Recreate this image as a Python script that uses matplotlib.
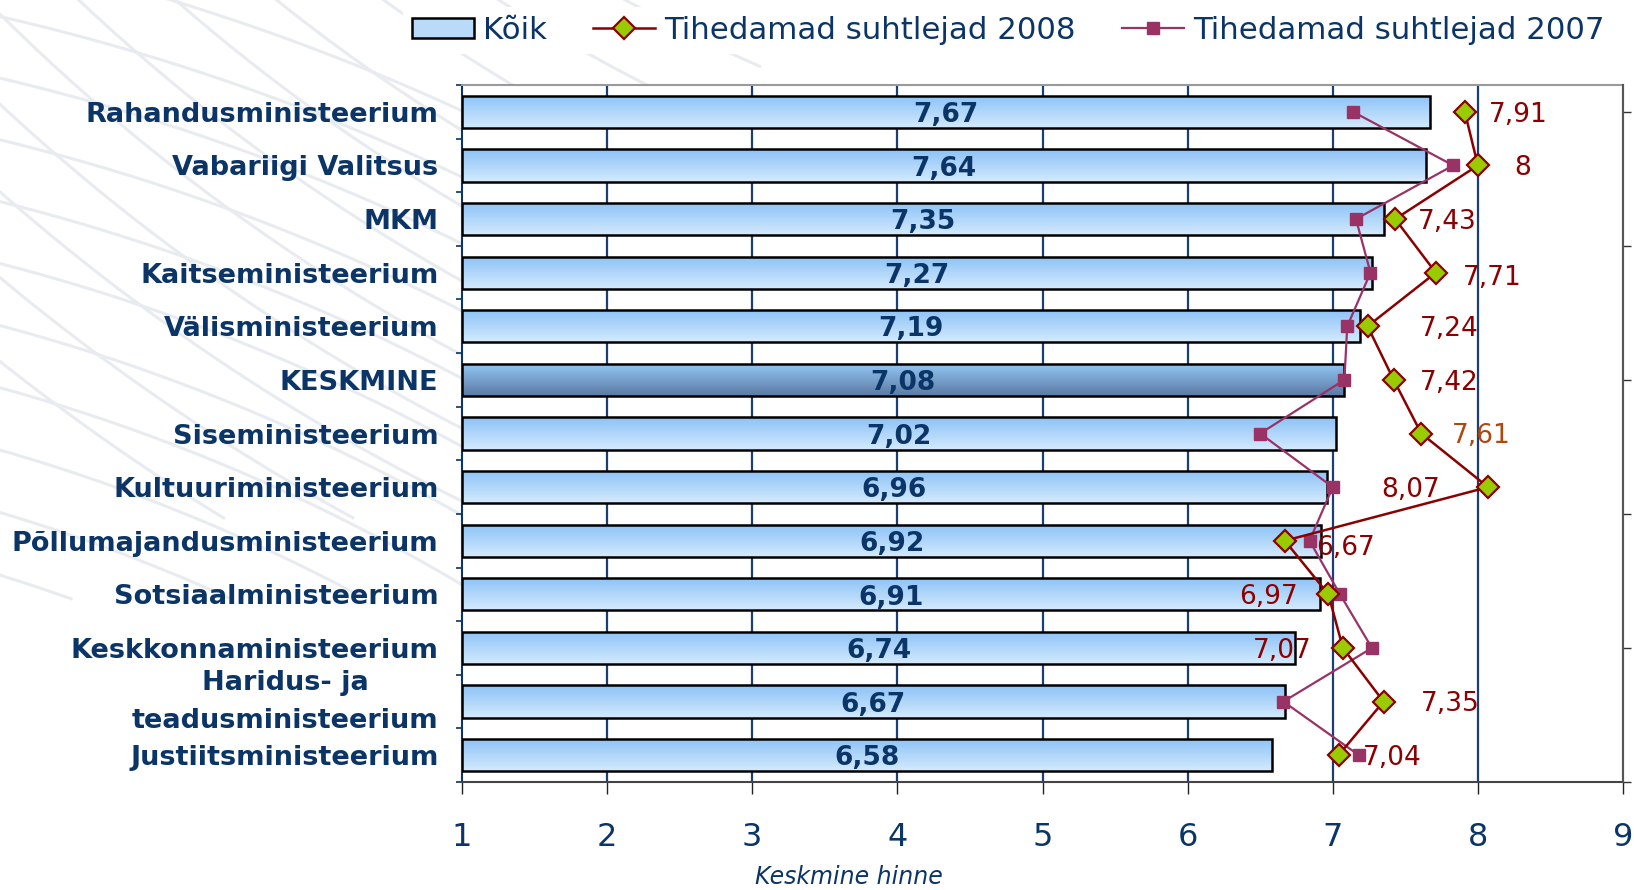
import numpy as np
import matplotlib
matplotlib.use("Agg")
import matplotlib.pyplot as plt
from matplotlib.colors import LinearSegmentedColormap
from matplotlib.patches import Patch
from matplotlib.lines import Line2D

# data
categories = ["Rahandusministeerium", "Vabariigi Valitsus", "MKM", "Kaitseministeerium",
              "Välisministeerium", "KESKMINE", "Siseministeerium", "Kultuuriministeerium",
              "Põllumajandusministeerium", "Sotsiaalministeerium", "Keskkonnaministeerium",
              "Haridus- ja\nteadusministeerium", "Justiitsministeerium"]
koik = [7.67, 7.64, 7.35, 7.27, 7.19, 7.08, 7.02, 6.96, 6.92, 6.91, 6.74, 6.67, 6.58]
tihe_2008 = [7.91, 8.00, 7.43, 7.71, 7.24, 7.42, 7.61, 8.07, 6.67, 6.97, 7.07, 7.35, 7.04]
tihe_2007 = [7.14, 7.83, 7.16, 7.26, 7.10, 7.08, 6.50, 7.00, 6.84, 7.05, 7.27, 6.66, 7.18]
x_ticks = [1, 2, 3, 4, 5, 6, 7, 8, 9]

# where the 2008 labels sit relative to their marker (data units / points down)
lab_dx = [0.37, 0.31, 0.36, 0.39, 0.56, 0.38, 0.41, -0.53, 0.42, -0.41, -0.42, 0.46, 0.37]
lab_dy = [2, 2, 2, 4, 2, 2, 2, 2, 5, 2, 2, 2, 2]

NAVY = "#0b3567"
RED = "#8b0000"
PLUM = "#993366"

fig = plt.figure(figsize=(16.34, 8.9), dpi=100)

# faint decorative swirl in the background
bg = fig.add_axes([0, 0, 1, 1], zorder=-10)
bg.set_xlim(0, 1634)
bg.set_ylim(890, 0)
bg.axis("off")
t = np.linspace(0, 2 * np.pi, 1500)
for r in np.arange(1600, 2300, 65):
    xs, ys = 1400 + r * np.cos(t), -1400 + r * np.sin(t)
    m = (ys < 520) & (xs < 760) & (ys > -5)
    bg.plot(np.where(m, xs, np.nan), np.where(m, ys, np.nan), color="#e8ecf1", lw=2.2)
for r in np.arange(1700, 2350, 60):
    xs, ys = -500 + r * np.cos(t), 2200 + r * np.sin(t)
    m = (ys < 600) & (xs < 760) & (ys > -5)
    bg.plot(np.where(m, xs, np.nan), np.where(m, ys, np.nan), color="#e8ecf1", lw=2.2)

ax = fig.add_axes([462 / 1634, 1 - 782 / 890, (1623 - 462) / 1634, (782 - 85) / 890])
ax.set_facecolor("white")

y = np.arange(len(categories))
h = 0.6
bars = ax.barh(y, [v - 1 for v in koik], left=1, height=h, facecolor="none",
               edgecolor="black", linewidth=1.8, zorder=3)

grad = np.linspace(0, 1, 64).reshape(-1, 1)
cm_norm = LinearSegmentedColormap.from_list("n", ["#8cc2f7", "#d4eafd"])
cm_avg = LinearSegmentedColormap.from_list("a", ["#94c7f6", "#5b7aa3"])
for i, (v, b) in enumerate(zip(koik, bars)):
    cm = cm_avg if categories[i] == "KESKMINE" else cm_norm
    im = ax.imshow(grad, extent=[1, v, i - h / 2, i + h / 2], origin="lower",
                   aspect="auto", cmap=cm, zorder=2)
    im.set_clip_path(b)
    ax.text((1 + v) / 2, i + 0.06, f"{v:.2f}".replace(".", ","), ha="center", va="center",
            color=NAVY, fontsize=19, fontweight="bold", zorder=6)

for gx in x_ticks[1:-1]:
    ax.axvline(gx, color="#1b3f70", lw=1.6, zorder=1)

ax.plot(tihe_2007, y, color=PLUM, lw=1.6, marker="s", ms=8.5, mfc=PLUM, mec=PLUM, zorder=4)
ax.plot(tihe_2008, y, color=RED, lw=1.8, marker="D", ms=11, mfc="#99cc00", mec=RED,
        mew=1.6, zorder=5)

for i, v in enumerate(tihe_2008):
    col = "#b0470f" if i == 6 else RED
    ax.annotate(f"{v:g}".replace(".", ","), (v + lab_dx[i], i), xytext=(0, -lab_dy[i]),
                textcoords="offset points", ha="center", va="center", color=col,
                fontsize=19, zorder=7)

ax.set_xlim(1, 9)
ax.set_ylim(len(categories) - 0.5, -0.5)
ax.set_xticks(x_ticks)
ax.set_xticklabels([str(v) for v in x_ticks], fontsize=23, color=NAVY)
ax.tick_params(axis="x", direction="out", length=8.5, width=1, color="#222222", pad=20)
ax.set_yticks(y)
ax.set_yticklabels(categories, fontsize=19.5, fontweight="bold", color=NAVY,
                   multialignment="center", linespacing=1.6)
for lbl in ax.get_yticklabels():
    if "\n" in lbl.get_text():
        lbl.set_va("center")
ax.tick_params(axis="y", which="major", length=0, pad=17)
ax.set_yticks(np.arange(-0.5, len(categories), 1), minor=True)
ax.tick_params(axis="y", which="minor", direction="out", length=4.5, width=1.2, color=NAVY)

for s in ["top", "right"]:
    ax.spines[s].set_color("#9a9a9a")
    ax.spines[s].set_linewidth(1.5)
ax.spines["bottom"].set_color("#444444")
ax.spines["bottom"].set_linewidth(1.5)
ax.spines["left"].set_color(NAVY)
ax.spines["left"].set_linewidth(1.5)

ax2 = ax.twinx()
ax2.set_ylim(0, 5.2)
ax2.set_yticks(range(6))
ax2.tick_params(axis="y", direction="out", length=6, width=1, color="#333333", labelright=False)
for s in ["top", "left", "bottom"]:
    ax2.spines[s].set_visible(False)
ax2.spines["right"].set_color("#555555")
ax2.spines["right"].set_linewidth(1.5)

fig.text(849 / 1634, 1 - 877 / 890, "Keskmine hinne", ha="center", va="center",
         fontsize=17, style="italic", color=NAVY)

handles = [Patch(facecolor="#b8dbfa", edgecolor="black", linewidth=1.8),
           Line2D([], [], color=RED, lw=1.8, marker="D", ms=11, mfc="#99cc00", mec=RED, mew=1.6),
           Line2D([], [], color=PLUM, lw=1.6, marker="s", ms=8.5, mfc=PLUM, mec=PLUM)]
leg = fig.legend(handles, ["Kõik", "Tihedamad suhtlejad 2008", "Tihedamad suhtlejad 2007"],
                 loc="upper right", bbox_to_anchor=(0.997, 1.010), ncol=3, fontsize=22.2,
                 frameon=True, facecolor="white", edgecolor="none", fancybox=False,
                 framealpha=1, handlelength=2.0, handleheight=0.65, handletextpad=0.3,
                 columnspacing=1.5, borderpad=0.3, labelcolor=NAVY)

fig.savefig("out.png", dpi=100, facecolor="white")
